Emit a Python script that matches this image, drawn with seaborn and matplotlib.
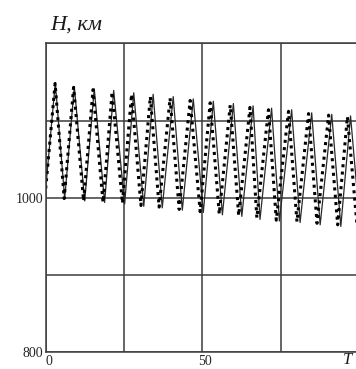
import matplotlib
matplotlib.use("Agg")
import matplotlib.pyplot as plt
import matplotlib.transforms as mtransforms
import seaborn as sns
import pandas as pd

# ---- data (extrema of each curve) ----
solid_t = [0.0, 3.06, 6.06, 9.13, 12.45, 15.5, 18.8, 21.7, 25.2, 28.1, 31.3, 34.3, 37.2,
           40.7, 43.6, 47.1, 50.3, 53.5, 56.4, 59.9, 62.6, 66.2, 68.4, 72.1, 74.6,
           78.5, 81.2, 84.9, 87.6, 91.3, 94.2, 97.3, 100.4]
solid_h = [1012, 1149, 999, 1144, 996, 1141, 994, 1139, 992, 1136, 989, 1134, 987,
           1131, 984, 1128, 981, 1125, 978, 1122, 976, 1119, 972, 1116, 970,
           1114, 968, 1110, 965, 1108, 963, 1106, 961]

dotted_t = [0.0, 3.0, 5.9, 8.9, 12.1, 15.1, 18.3, 21.2, 24.5, 27.4, 30.4, 33.4, 36.2,
            39.7, 42.6, 46.1, 49.3, 52.5, 55.4, 58.9, 61.6, 65.2, 67.4, 71.1, 73.6,
            77.5, 80.2, 83.9, 86.6, 90.3, 93.2, 96.3, 99.4]
dotted_h = [1012, 1148, 999, 1143, 996, 1140, 994, 1137, 993, 1134, 990, 1131, 988,
            1129, 985, 1126, 982, 1123, 979, 1120, 977, 1117, 974, 1114, 971,
            1112, 969, 1109, 967, 1107, 965, 1105, 963]

x_ticks = [0, 25, 50, 75, 100]
x_labels = ["0", "", "50", "", ""]
y_ticks = [800, 900, 1000, 1100, 1200]
y_labels = ["800", "", "1000", "", ""]

df = pd.concat([
    pd.DataFrame({"T": solid_t, "H": solid_h, "curve": "solid"}),
    pd.DataFrame({"T": dotted_t, "H": dotted_h, "curve": "dotted"}),
])

sns.set_theme(style="white")
plt.rcParams["font.family"] = ["Liberation Serif", "DejaVu Serif"]

fig = plt.figure(figsize=(3.56, 3.69), dpi=100)
ax = fig.add_axes([45.7 / 356, 16.7 / 369, 313.3 / 356, 309.0 / 369])

grid_c = "#3c3c3c"
sns.lineplot(data=df[df.curve == "solid"], x="T", y="H", ax=ax, sort=False,
             estimator=None, color="#2a2a2a", linewidth=0.9)
sns.lineplot(data=df[df.curve == "dotted"], x="T", y="H", ax=ax, sort=False,
             estimator=None, color="black", linewidth=2.2, linestyle=(0, (1, 1.4)))

ax.set_xlim(0, 100)
ax.set_ylim(800, 1200)
ax.set_xticks(x_ticks)
ax.set_xticklabels(x_labels, fontsize=10)
ax.set_yticks(y_ticks)
ax.set_yticklabels(y_labels, fontsize=10)
ax.tick_params(length=0, pad=2)
ax.grid(True, color=grid_c, linewidth=1.1)
ax.set_axisbelow(True)
for s in ax.spines.values():
    s.set_color(grid_c)
    s.set_linewidth(1.1)
ax.set_xlabel("")
ax.set_ylabel("")

# shift x tick labels slightly right as in the reference
off = mtransforms.ScaledTranslation(3 / 100, 0, fig.dpi_scale_trans)
for lab in ax.get_xticklabels():
    lab.set_transform(lab.get_transform() + off)

fig.text(50 / 356, 1 - 30 / 369, "H, км", fontsize=16, style="italic",
         ha="left", va="baseline", color="#1a1a1a")
fig.text(348 / 356, 1 - 367.5 / 369, "T", fontsize=12, style="italic",
         ha="center", va="bottom", color="#1a1a1a")

fig.savefig("out.png", dpi=100)
